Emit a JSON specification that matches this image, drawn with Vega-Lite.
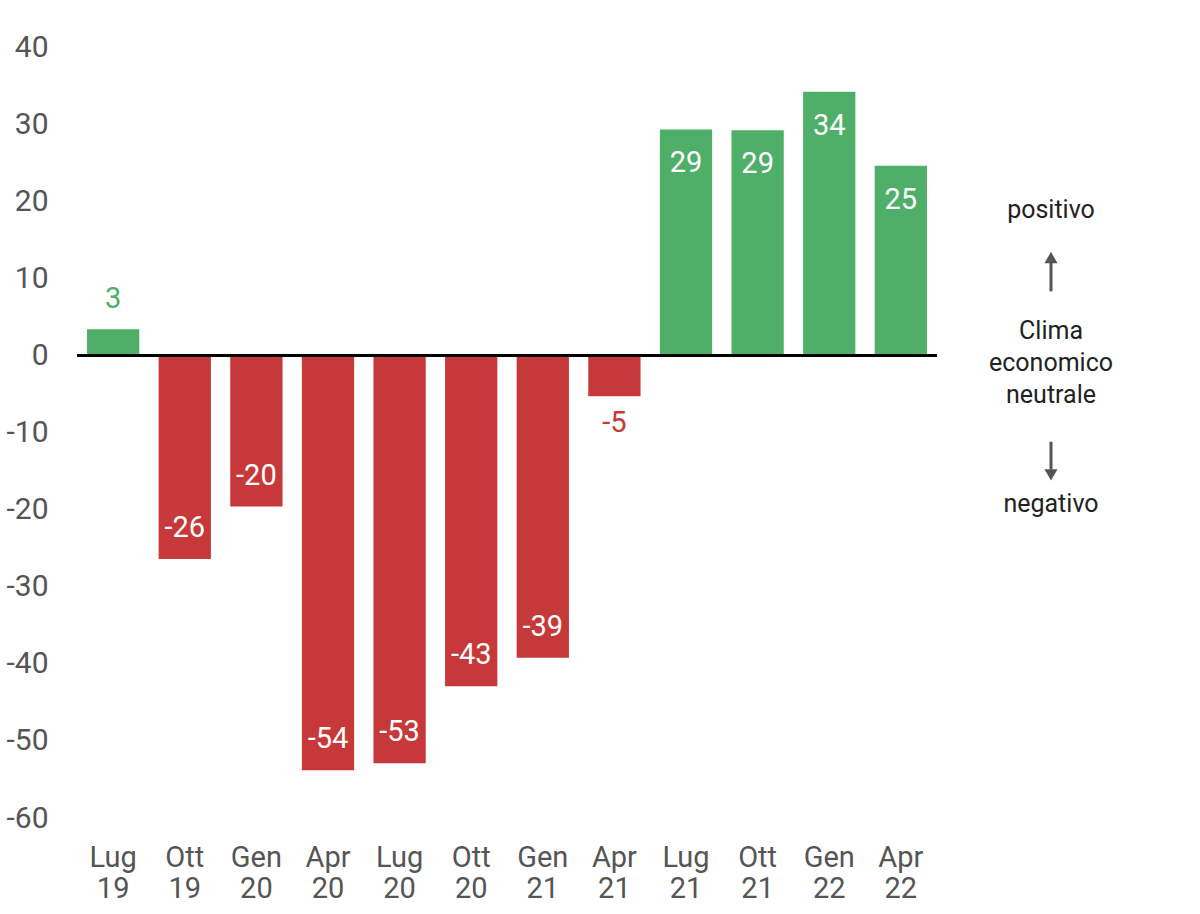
{
  "$schema": "https://vega.github.io/schema/vega-lite/v6.json",
  "padding": {"left": 5, "top": 32, "right": 5, "bottom": 5},
  "background": "white",
  "config": {
    "view": {"stroke": null},
    "font": "Roboto",
    "axis": {"grid": false, "domain": false, "ticks": false, "tickSize": 0, "title": null}
  },
  "spacing": 13,
  "hconcat": [
    {
      "width": 860,
      "height": 771,
      "data": {
        "values": [
          {"periodo": "Lug 19", "valore": 3.4, "etichetta": "3"},
          {"periodo": "Ott 19", "valore": -26.4, "etichetta": "-26"},
          {"periodo": "Gen 20", "valore": -19.6, "etichetta": "-20"},
          {"periodo": "Apr 20", "valore": -53.8, "etichetta": "-54"},
          {"periodo": "Lug 20", "valore": -52.9, "etichetta": "-53"},
          {"periodo": "Ott 20", "valore": -42.9, "etichetta": "-43"},
          {"periodo": "Gen 21", "valore": -39.2, "etichetta": "-39"},
          {"periodo": "Apr 21", "valore": -5.3, "etichetta": "-5"},
          {"periodo": "Lug 21", "valore": 29.3, "etichetta": "29"},
          {"periodo": "Ott 21", "valore": 29.2, "etichetta": "29"},
          {"periodo": "Gen 22", "valore": 34.2, "etichetta": "34"},
          {"periodo": "Apr 22", "valore": 24.6, "etichetta": "25"}
        ]
      },
      "encoding": {
        "x": {
          "field": "periodo", "type": "nominal", "sort": null,
          "scale": {"paddingInner": 0.27, "paddingOuter": 0.14},
          "axis": {
            "labelAngle": 0, "labelFontSize": 29, "labelColor": "#555555",
            "labelPadding": 25, "labelLineHeight": 31, "labelBaseline": "top",
            "labelExpr": "split(datum.label, ' ')"
          }
        },
        "y": {
          "field": "valore", "type": "quantitative",
          "scale": {"domain": [-60, 40], "nice": false, "zero": false},
          "axis": {
            "values": [-60, -50, -40, -30, -20, -10, 0, 10, 20, 30, 40],
            "labelFontSize": 30, "labelColor": "#555555", "labelPadding": 29,
            "labelExpr": "'' + datum.value"
          }
        }
      },
      "layer": [
        {
          "mark": {"type": "bar"},
          "encoding": {
            "color": {"condition": {"test": "datum.valore > 0", "value": "#4faf69"}, "value": "#c7383a"}
          }
        },
        {
          "mark": {"type": "rule", "color": "#000000", "strokeWidth": 2},
          "encoding": {"y": {"datum": 0}, "x": null}
        },
        {
          "transform": [{"filter": "datum.valore >= 10"}],
          "mark": {"type": "text", "fontSize": 29, "color": "white", "baseline": "middle", "dy": 34},
          "encoding": {"text": {"field": "etichetta"}}
        },
        {
          "transform": [{"filter": "datum.valore <= -10"}],
          "mark": {"type": "text", "fontSize": 29, "color": "white", "baseline": "middle", "dy": -31},
          "encoding": {"text": {"field": "etichetta"}}
        },
        {
          "transform": [{"filter": "datum.valore > 0 && datum.valore < 10"}],
          "mark": {"type": "text", "fontSize": 29, "color": "#4faf69", "baseline": "middle", "dy": -30},
          "encoding": {"text": {"field": "etichetta"}}
        },
        {
          "transform": [{"filter": "datum.valore < 0 && datum.valore > -10"}],
          "mark": {"type": "text", "fontSize": 29, "color": "#c7383a", "baseline": "middle", "dy": 27},
          "encoding": {"text": {"field": "etichetta"}}
        }
      ]
    },
    {
      "width": 200,
      "height": 771,
      "layer": [
        {
          "data": {
            "values": [
              {"testo": "positivo", "y": 18.9},
              {"testo": "Clima", "y": 3.1},
              {"testo": "economico", "y": -1.0},
              {"testo": "neutrale", "y": -5.1},
              {"testo": "negativo", "y": -19.3}
            ]
          },
          "mark": {"type": "text", "fontSize": 25, "color": "#222222", "baseline": "middle", "align": "center"},
          "encoding": {
            "x": {"datum": 0.5, "type": "quantitative", "scale": {"domain": [0, 1]}, "axis": null},
            "y": {"field": "y", "type": "quantitative", "scale": {"domain": [-60, 40], "nice": false, "zero": false}, "axis": null},
            "text": {"field": "testo"}
          }
        },
        {
          "data": {
            "values": [
              {"y1": 8.3, "y2": 12.0},
              {"y1": -11.2, "y2": -14.8}
            ]
          },
          "mark": {"type": "rule", "color": "#555555", "strokeWidth": 3},
          "encoding": {
            "x": {"datum": 0.5, "type": "quantitative", "scale": {"domain": [0, 1]}, "axis": null},
            "y": {"field": "y1", "type": "quantitative", "scale": {"domain": [-60, 40], "nice": false, "zero": false}, "axis": null},
            "y2": {"field": "y2"}
          }
        },
        {
          "data": {
            "values": [
              {"y": 12.7, "forma": "triangle-up"},
              {"y": -15.5, "forma": "triangle-down"}
            ]
          },
          "mark": {"type": "point", "filled": true, "color": "#555555", "size": 170, "opacity": 1},
          "encoding": {
            "x": {"datum": 0.5, "type": "quantitative", "scale": {"domain": [0, 1]}, "axis": null},
            "y": {"field": "y", "type": "quantitative", "scale": {"domain": [-60, 40], "nice": false, "zero": false}, "axis": null},
            "shape": {"field": "forma", "type": "nominal", "scale": {"domain": ["triangle-up", "triangle-down"], "range": ["triangle-up", "triangle-down"]}, "legend": null}
          }
        }
      ]
    }
  ]
}
